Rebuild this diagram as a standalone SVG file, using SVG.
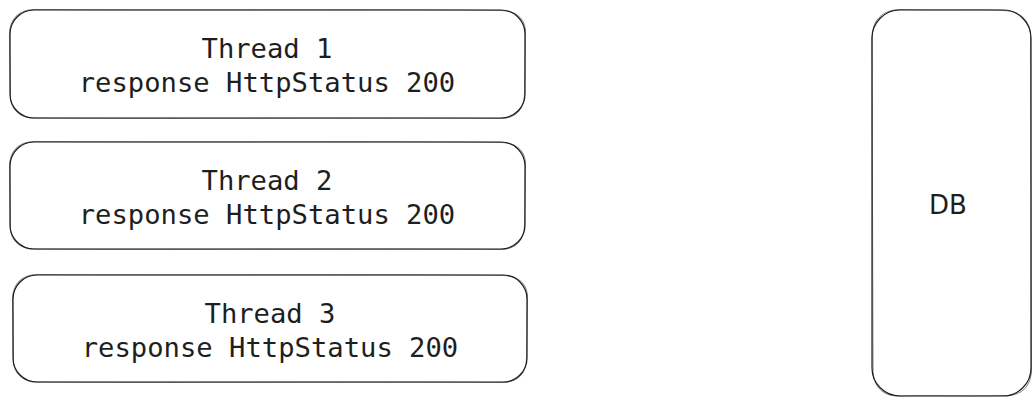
<svg xmlns="http://www.w3.org/2000/svg" width="1035" height="407" viewBox="0 0 1035 407">
<style>
.box{fill:#fff;stroke:#1e1e1e;stroke-width:1.2}
.sk{fill:none;stroke:#1e1e1e;stroke-width:0.8;opacity:0.7}
.t{font-family:"DejaVu Sans Mono","Liberation Mono",monospace;font-size:27.2px;fill:#1e1e1e;text-anchor:middle}
.db{font-family:"DejaVu Sans",sans-serif;font-size:26px;fill:#1e1e1e;text-anchor:middle}
</style>
<rect width="1035" height="407" fill="#fff"/>
<g id="thread1">
<rect class="box" x="10" y="10" width="515" height="108" rx="24"/>
<path class="sk" d="M34 9.5 C200 10.5 400 9 501 10.5 C518 11 526 20 525.5 34 L524.5 94 C524 110 516 118 501 118.5 C350 117.5 150 119 34 118 C18 117.5 9.5 108 10.5 94 L9.5 34 C10 19 18 10 34 9.5"/>
<text class="t" x="267" y="58">Thread 1</text>
<text class="t" x="267" y="92">response HttpStatus 200</text>
</g>
<g id="thread2">
<rect class="box" x="10" y="142" width="515" height="107" rx="24"/>
<path class="sk" d="M34 141.5 C200 142.5 400 141 501 142.5 C518 143 526 152 525.5 166 L524.5 225 C524 241 516 249 501 249.5 C350 248.5 150 250 34 249 C18 248.5 9.5 239 10.5 225 L9.5 166 C10 151 18 142 34 141.5"/>
<text class="t" x="267" y="190">Thread 2</text>
<text class="t" x="267" y="224">response HttpStatus 200</text>
</g>
<g id="thread3">
<rect class="box" x="13" y="275" width="514" height="107" rx="24"/>
<path class="sk" d="M37 274.5 C200 275.5 400 274 503 275.5 C520 276 528 285 527.5 299 L526.5 358 C526 374 518 382 503 382.5 C350 381.5 150 383 37 382 C21 381.5 12.5 372 13.5 358 L12.5 299 C13 284 21 275 37 274.5"/>
<text class="t" x="270" y="323">Thread 3</text>
<text class="t" x="270" y="357">response HttpStatus 200</text>
</g>
<g id="db">
<rect class="box" x="872" y="10" width="159" height="386" rx="28" stroke-width="1.8"/>
<path class="sk" d="M900 9.5 C950 10.5 980 9 1003 10.5 C1022 11 1031.5 22 1030.5 40 L1031.5 370 C1031 386 1022 396.5 1003 395.5 C960 396.5 930 395 900 396 C882 396.5 872.5 386 873 368 L872 38 C872.5 20 882 10 900 9.5"/>
<text class="db" x="948" y="214">DB</text>
</g>
<g id="connectors"></g>
</svg>
